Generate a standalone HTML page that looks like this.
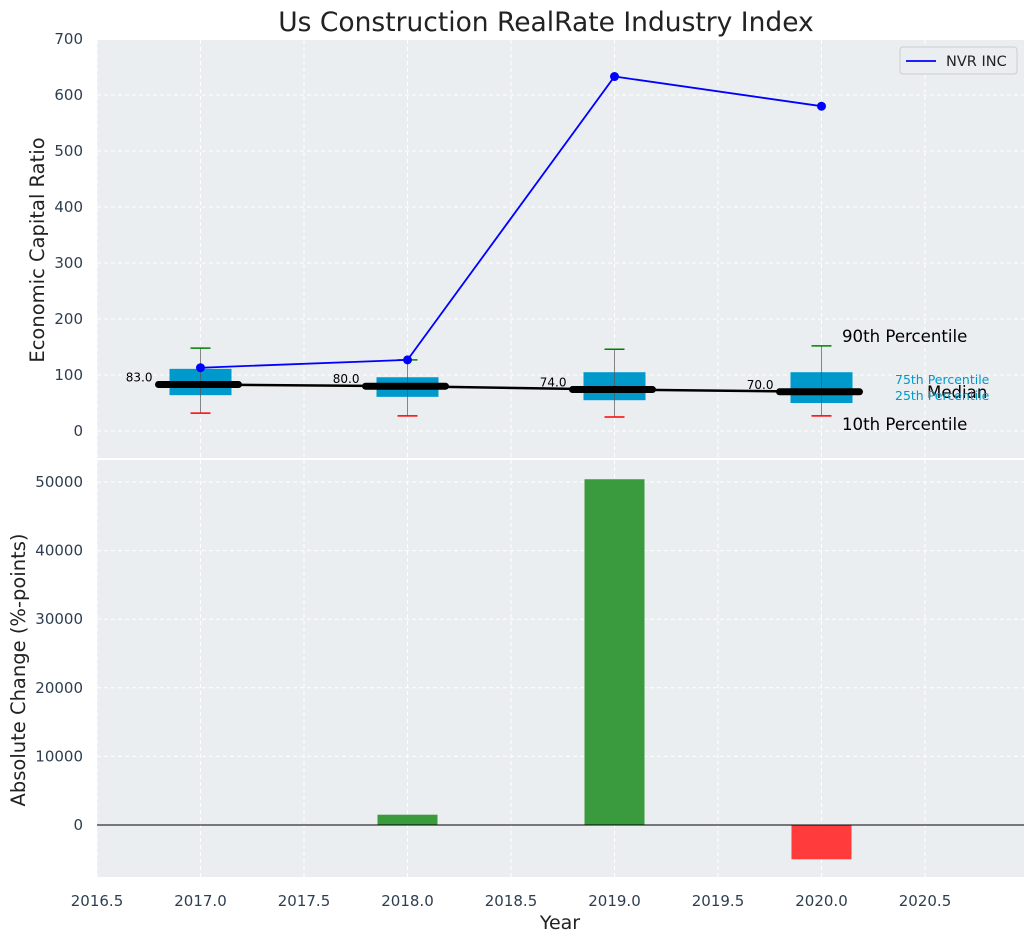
<!DOCTYPE html>
<html><head><meta charset="utf-8"><style>
body{margin:0;background:#fff;font-family:"DejaVu Sans","Liberation Sans",sans-serif}
svg text{font-family:"DejaVu Sans","Liberation Sans",sans-serif}
</style></head><body>
<svg id="c" width="1036" height="942" xmlns="http://www.w3.org/2000/svg"></svg>
<script>
const years=[2017,2018,2019,2020];
const p10=[32,27,25,27];
const p25=[64,61,55,50];
const medians=[83,80,74,70];
const p75=[111,96,105,105];
const p90=[148,127,146,152];
const nvr=[113,127,633,580];
const changes=[null,1500,50400,-5000];
const xTicks=[2016.5,2017,2017.5,2018,2018.5,2019,2019.5,2020,2020.5];
const yTopTicks=[0,100,200,300,400,500,600,700];
const yBotTicks=[0,10000,20000,30000,40000,50000];

const L=97,R=1024,T1=40,B1=458,T2=460,B2=877;
const x=v=>L+(v-2016.5)*207;
const y1=v=>431-v*0.56;
const y2=v=>825-v*0.00686;
const svg=document.getElementById('c');
const NS='http://www.w3.org/2000/svg';
function mk(tag,attrs,parent,txt){const e=document.createElementNS(NS,tag);for(const k in attrs)e.setAttribute(k,attrs[k]);if(txt!==undefined)e.textContent=txt;(parent||svg).appendChild(e);return e;}

let e=mk('rect',{x:L,y:T1,width:R-L,height:B1-T1,fill:'#eaeef0'});

e=mk('rect',{x:L,y:T2,width:R-L,height:B2-T2,fill:'#eaeef0'});


xTicks.forEach(t=>{
  mk('line',{x1:x(t),x2:x(t),y1:T1,y2:B1,stroke:'#fff','stroke-dasharray':'4,3','stroke-width':1});
  mk('line',{x1:x(t),x2:x(t),y1:T2,y2:B2,stroke:'#fff','stroke-dasharray':'4,3','stroke-width':1});
  e=mk('text',{x:x(t),y:906,'text-anchor':'middle','font-size':15,fill:'#2e3e50'},null,t.toFixed(1));
  
});
yTopTicks.forEach(t=>{
  mk('line',{x1:L,x2:R,y1:y1(t),y2:y1(t),stroke:'#fff','stroke-dasharray':'4,3'});
  e=mk('text',{x:83,y:y1(t)+5,'text-anchor':'end','font-size':15,fill:'#2e3e50'},null,t);
  
});
yBotTicks.forEach(t=>{
  mk('line',{x1:L,x2:R,y1:y2(t),y2:y2(t),stroke:'#fff','stroke-dasharray':'4,3'});
  e=mk('text',{x:83,y:y2(t)+5,'text-anchor':'end','font-size':15,fill:'#2e3e50'},null,t);
  
});

years.forEach((yr,i)=>{
  const cx=x(yr);
  e=mk('rect',{x:cx-31,y:y1(p75[i]),width:62,height:y1(p25[i])-y1(p75[i]),fill:'#0099cc'});
  
  e=mk('line',{x1:cx,x2:cx,y1:y1(p10[i]),y2:y1(p90[i]),stroke:'#555','stroke-width':1,opacity:0.7});
  
  e=mk('line',{x1:cx-10,x2:cx+10,y1:y1(p90[i]),y2:y1(p90[i]),stroke:'green','stroke-width':1.5});
  
  e=mk('line',{x1:cx-10,x2:cx+10,y1:y1(p10[i]),y2:y1(p10[i]),stroke:'red','stroke-width':1.5});
  
  e=mk('text',{x:cx-48,y:y1(medians[i])-3,'text-anchor':'end','font-size':12,fill:'#000'},null,medians[i].toFixed(1));
  
});
e=mk('polyline',{points:years.map((yr,i)=>x(yr)+','+y1(medians[i])).join(' '),fill:'none',stroke:'#000','stroke-width':2.5});

years.forEach((yr,i)=>{
  e=mk('line',{x1:x(yr)-42,x2:x(yr)+38,y1:y1(medians[i]),y2:y1(medians[i]),stroke:'#000','stroke-width':7,'stroke-linecap':'round'});
  
});
e=mk('polyline',{points:years.map((yr,i)=>x(yr)+','+y1(nvr[i])).join(' '),fill:'none',stroke:'blue','stroke-width':1.8});

years.forEach((yr,i)=>{
  e=mk('circle',{cx:x(yr),cy:y1(nvr[i]),r:4.5,fill:'blue'});
  
});
const ann=[[842,342,'90th Percentile',16.6,'#000'],[927,398,'Median',16.6,'#000'],[842,430,'10th Percentile',16.6,'#000'],[895,384,'75th Percentile',12.5,'#0099cc'],[895,400,'25th Percentile',12.5,'#0099cc']];
ann.forEach(a=>{e=mk('text',{x:a[0],y:a[1],'font-size':a[3],fill:a[4]},null,a[2]);});
e=mk('g',{});
mk('rect',{x:900,y:47,width:117,height:27,fill:'#eaeef0',stroke:'#ccc',rx:3},e);
mk('line',{x1:906,x2:936,y1:61,y2:61,stroke:'blue','stroke-width':1.8},e);
mk('text',{x:946,y:66,'font-size':14.5,fill:'#222'},e,'NVR INC');

years.forEach((yr,i)=>{
  if(changes[i]===null)return;
  const v=changes[i];
  e=mk('rect',{x:x(yr)-30,y:Math.min(y2(v),y2(0)),width:60,height:Math.abs(y2(v)-y2(0)),fill:v>=0?'#3a9a3e':'#ff3b3b'});
  
});
mk('line',{x1:L,x2:R,y1:y2(0),y2:y2(0),stroke:'#000','stroke-width':1});

e=mk('text',{x:546,y:31,'text-anchor':'middle','font-size':26.5,fill:'#222'},null,'Us Construction RealRate Industry Index');

e=mk('text',{x:0,y:0,transform:'translate(44,250) rotate(-90)','text-anchor':'middle','font-size':19.5,fill:'#222'},null,'Economic Capital Ratio');

e=mk('text',{x:0,y:0,transform:'translate(25,670) rotate(-90)','text-anchor':'middle','font-size':19.5,fill:'#222'},null,'Absolute Change (%-points)');

e=mk('text',{x:560,y:929,'text-anchor':'middle','font-size':19,fill:'#222'},null,'Year');

</script>
</body></html>
